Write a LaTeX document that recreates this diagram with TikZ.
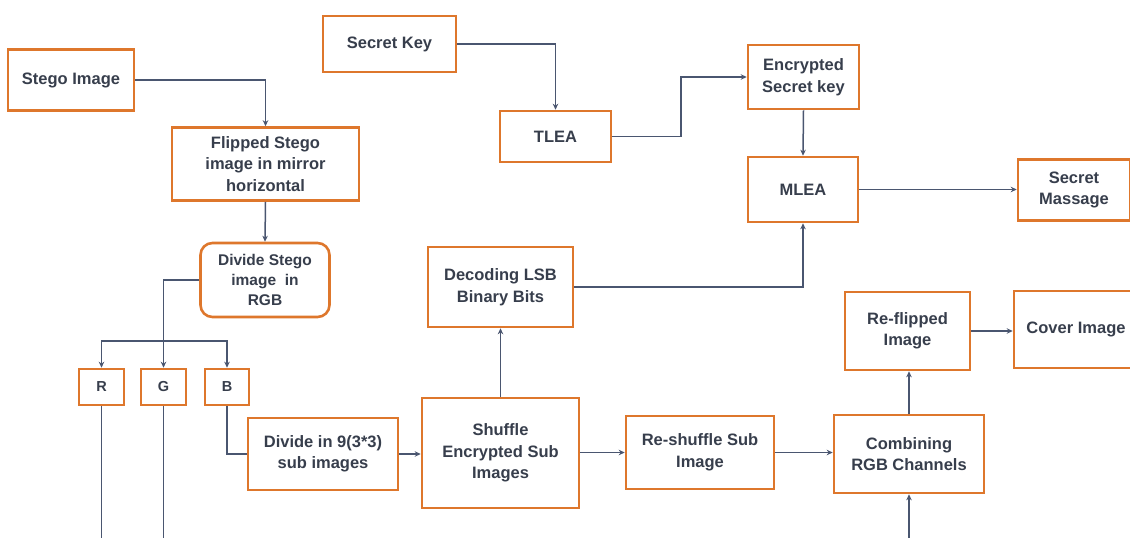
\documentclass[tikz,border=0pt]{standalone}
\usepackage{fontspec}
\setmainfont{Liberation Sans}
\usetikzlibrary{arrows.meta}
\definecolor{boxor}{HTML}{DE772C}
\definecolor{lnc}{HTML}{4A5670}
\definecolor{txc}{HTML}{373E4C}
\tikzset{
  box/.style={draw=boxor, line width=2.6pt, fill=white, align=center, inner sep=0pt,
    text=txc, font=\fontsize{16.5}{21.5}\selectfont\bfseries},
  arr/.style={draw=lnc, line width=1.5pt, -{Stealth[length=6pt,width=5.5pt]}},
  ln/.style={draw=lnc, line width=1.5pt},
}
\begin{document}
\begin{tikzpicture}[x=1pt,y=-1pt]
\path[use as bounding box] (0,0) rectangle (1130,538);
\begin{scope}
\clip (0,0) rectangle (1130,538);
\fill[white] (0,0) rectangle (1130,538);
% nodes
\node[box, minimum width=126, minimum height=61] (stego) at (71,80) {Stego Image};
\node[box, minimum width=133, minimum height=56] (key) at (389.5,44) {Secret Key};
\node[box, minimum width=111, minimum height=51] (tlea) at (555.5,136.5) {TLEA};
\node[box, minimum width=111, minimum height=64] (enc) at (803.5,77) {Encrypted\\Secret key};
\node[box, minimum width=110, minimum height=65] (mlea) at (803,189.5) {MLEA};
\node[box, minimum width=112, minimum height=61] (msg) at (1074,190) {Secret\\Massage};
\node[box, minimum width=187, minimum height=73] (flip) at (265.5,164) {Flipped Stego\\image in mirror\\horizontal};
\node[box, rounded corners=12pt, minimum width=129, minimum height=74, font=\fontsize{15.5}{20}\selectfont\bfseries] (div) at (265,280) {Divide Stego\\image\ \ in\\RGB};
\node[box, minimum width=45, minimum height=36, font=\fontsize{14.5}{18}\selectfont\bfseries] (R) at (101.5,387) {R};
\node[box, minimum width=45, minimum height=36, font=\fontsize{14.5}{18}\selectfont\bfseries] (G) at (163.5,387) {G};
\node[box, minimum width=44, minimum height=36, font=\fontsize{14.5}{18}\selectfont\bfseries] (B) at (227,387) {B};
\node[box, minimum width=150, minimum height=72] (div9) at (323,454) {Divide in 9(3*3)\\sub images};
\node[box, minimum width=157, minimum height=110] (shuf) at (500.5,453) {Shuffle\\Encrypted Sub\\Images};
\node[box, minimum width=145, minimum height=80] (dec) at (500.5,287) {Decoding LSB\\Binary Bits};
\node[box, minimum width=148, minimum height=73] (resh) at (700,452.5) {Re-shuffle Sub\\Image};
\node[box, minimum width=150, minimum height=78] (comb) at (909,454) {Combining\\RGB Channels};
\node[box, minimum width=125, minimum height=78] (refl) at (907.5,331) {Re-flipped\\Image};
\node[box, minimum width=124, minimum height=77] (cover) at (1076,329.5) {Cover Image};
% free ends
\coordinate (j) at (163.5,341);
\coordinate (rbot) at (101.5,545);
\coordinate (gbot) at (163.5,545);
\coordinate (cbot) at (909,545);
\coordinate (tk) at (681,136.5);
% connectors
\draw[arr] (stego.east) -| (flip.north);
\draw[arr] (flip.south) -- (div.north);
\draw[arr] (div.west) -| (G.north);
\draw[arr] (j) -| (R.north);
\draw[arr] (j) -| (B.north);
\draw[ln] (R.south) -- (rbot);
\draw[ln] (G.south) -- (gbot);
\draw[ln] (B.south) |- (div9.west);
\draw[arr] (div9.east) -- (div9.east -| shuf.west);
\draw[arr] (shuf.north) -- (shuf.north |- dec.south);
\draw[arr] (dec.east) -| (mlea.south);
\draw[arr] (shuf.east |- resh.west) -- (resh.west);
\draw[arr] (resh.east) -- (resh.east -| comb.west);
\draw[arr] (comb.north) -- (comb.north |- refl.south);
\draw[arr] (refl.east) -- (refl.east -| cover.west);
\draw[arr] (cbot) -- (comb.south);
\draw[arr] (key.east) -| (tlea.north);
\draw[arr] (tlea.east) -- (tk) |- (enc.west);
\draw[arr] (enc.south) -- (mlea.north);
\draw[arr] (mlea.east) -- (mlea.east -| msg.west);
\end{scope}
\end{tikzpicture}
\end{document}
